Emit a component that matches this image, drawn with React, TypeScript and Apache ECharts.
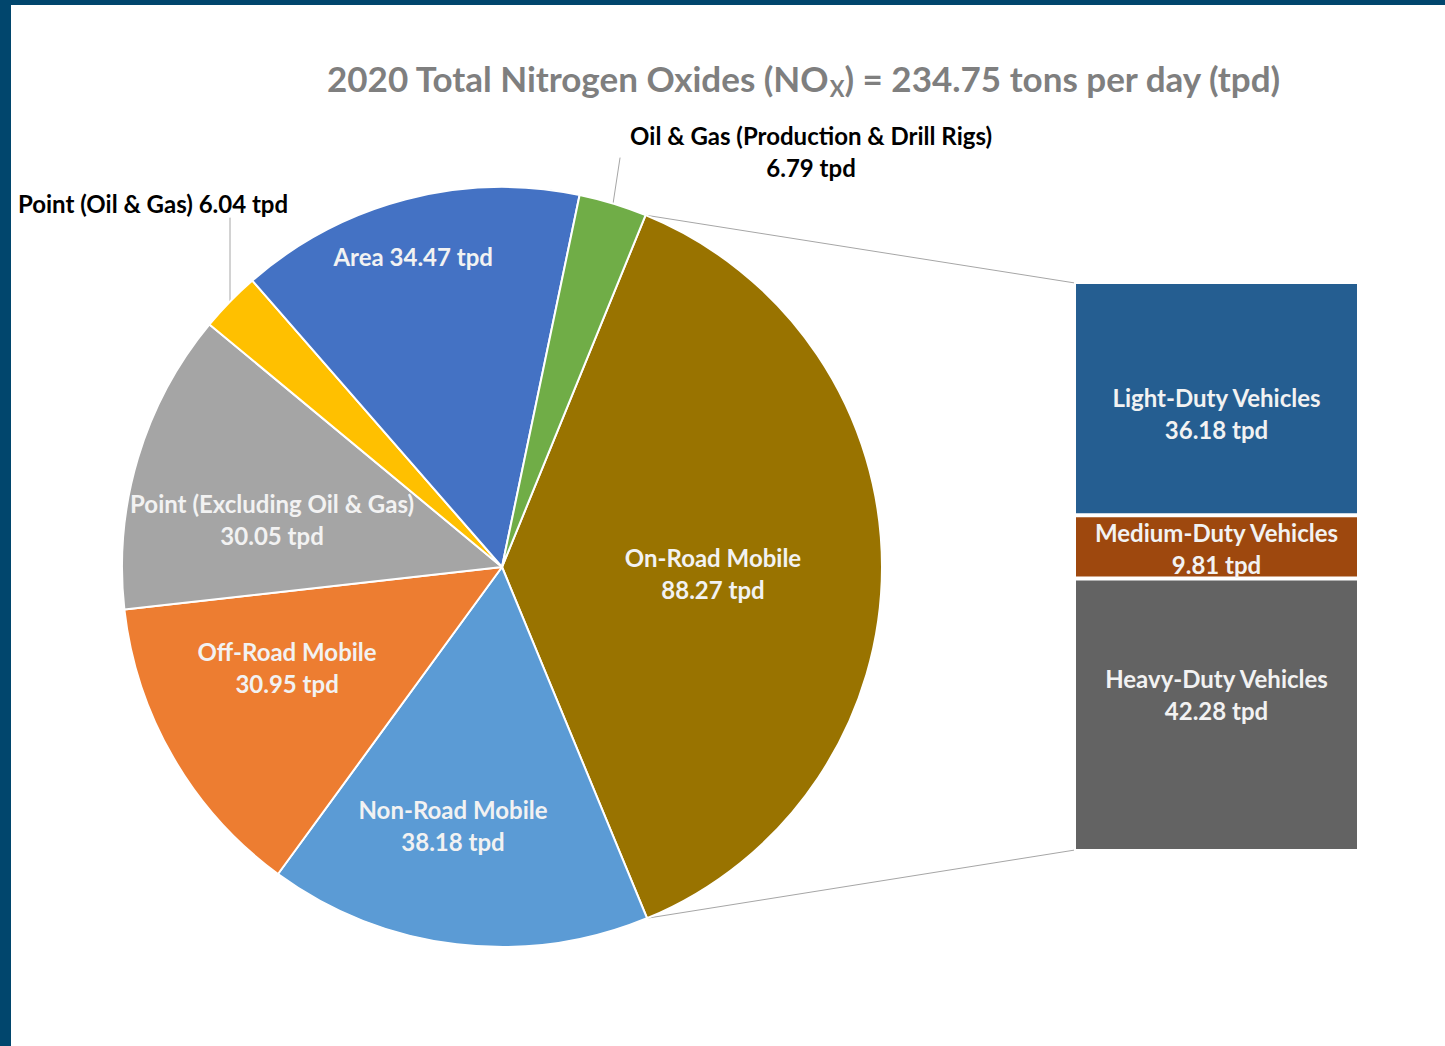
import React, { useEffect, useRef } from "react";
import * as echarts from "echarts";

const categories = [
  "On-Road Mobile",
  "Non-Road Mobile",
  "Off-Road Mobile",
  "Point (Excluding Oil & Gas)",
  "Point (Oil & Gas)",
  "Area",
  "Oil & Gas (Production & Drill Rigs)",
];
const values = [88.27, 38.18, 30.95, 30.05, 6.04, 34.47, 6.79];
const colors = ["#997300", "#5B9BD5", "#ED7D31", "#A5A5A5", "#FFC000", "#4472C4", "#70AD47"];

const onRoadCategories = ["Light-Duty Vehicles", "Medium-Duty Vehicles", "Heavy-Duty Vehicles"];
const onRoadValues = [36.18, 9.81, 42.28];
const onRoadColors = ["#255E91", "#9E480E", "#636363"];

const titleMain = "2020 Total Nitrogen Oxides (NO";
const titleSub = "X";
const titleEnd = ") = 234.75 tons per day (tpd)";

// label tweaks (styling only)
const insideOffsets: Record<string, number[]> = {
  "On-Road Mobile": [18, 7],
  "Non-Road Mobile": [-26, 67],
  "Off-Road Mobile": [-48, 4],
  "Point (Excluding Oil & Gas)": [-45, 8],
  Area: [-40, -124],
};
const barLabelOffsets = [[0, 15], [0, 2], [0, -20]];
const singleLine = ["Area", "Point (Oil & Gas)"];
const outside = ["Point (Oil & Gas)", "Oil & Gas (Production & Drill Rigs)"];

const FONT = "Lato";
const CX = 502;
const CY = 567;
const R = 380;
const START = 22.2; // degrees clockwise from 12 o'clock
const BAR = { left: 1075, top: 283, width: 283, height: 567 };

export default function App() {
  const ref = useRef<HTMLDivElement>(null);
  useEffect(() => {
    document.body.style.margin = "0";
    if (!ref.current) return;
    const chart = echarts.init(ref.current, undefined, { renderer: "svg" });
    const total = values.reduce((a, b) => a + b, 0);
    const onRoadTotal = onRoadValues.reduce((a, b) => a + b, 0);
    const a1 = (START * Math.PI) / 180;
    const a2 = ((START + (360 * values[0]) / total) * Math.PI) / 180;
    const p1 = [CX + R * Math.sin(a1), CY - R * Math.cos(a1)];
    const p2 = [CX + R * Math.sin(a2), CY - R * Math.cos(a2)];

    const pieData = categories.map((name, i) => {
      const isOut = outside.includes(name);
      return {
        name,
        value: values[i],
        itemStyle: { color: colors[i] },
        label: isOut
          ? { position: "outside", color: "#000000", align: "center" }
          : { position: "inside", offset: insideOffsets[name] || [0, 0], color: "#F2F2F2" },
        labelLine: { show: isOut, length: 20, length2: 0, lineStyle: { color: "#A6A6A6", width: 1 } },
      };
    });

    chart.setOption({
      animation: false,
      backgroundColor: "#FFFFFF",
      title: {
        left: 322,
        top: 52,
        text: `{t|${titleMain}}{s|${titleSub}}{t|${titleEnd}}`,
        textStyle: {
          rich: {
            t: { fontFamily: FONT, fontSize: 35, color: "#7F7F7F", lineHeight: 42 },
            s: { fontFamily: FONT, fontSize: 22, color: "#7F7F7F", lineHeight: 42, verticalAlign: "bottom" },
          },
        },
      },
      grid: { left: BAR.left - 1, top: BAR.top - 1, width: BAR.width + 2, height: BAR.height + 2 },
      xAxis: { type: "category", data: ["On-Road Mobile"], show: false },
      yAxis: { type: "value", min: 0, max: onRoadTotal, inverse: true, show: false },
      series: [
        {
          type: "pie",
          silent: true,
          center: [CX, CY],
          radius: [0, R],
          startAngle: 90 - START,
          clockwise: true,
          avoidLabelOverlap: false,
          itemStyle: { borderColor: "#FFFFFF", borderWidth: 2 },
          label: {
            fontFamily: FONT,
            fontWeight: "bold",
            fontSize: 24,
            lineHeight: 32,
            formatter: (p: any) =>
              singleLine.includes(p.name) ? `${p.name} ${p.value} tpd` : `${p.name}\n${p.value} tpd`,
          },
          labelLayout: (p: any) => {
            const pts = p.labelLinePoints;
            if (!pts) return {};
            const [x1, y1] = pts[0];
            if (p.dataIndex === 4) {
              return {
                x: x1 - 77,
                y: y1 - 98,
                align: "center",
                verticalAlign: "middle",
                labelLinePoints: [[x1, y1], [x1, y1 - 84]],
              };
            }
            if (p.dataIndex === 6) {
              return {
                x: x1 + 198,
                y: y1 - 52,
                align: "center",
                verticalAlign: "middle",
                labelLinePoints: [[x1, y1], [x1 + 7, y1 - 46]],
              };
            }
            return {};
          },
          data: pieData,
        },
        ...onRoadCategories.map((name, i) => ({
          type: "bar",
          name,
          stack: "onroad",
          silent: true,
          barWidth: "100%",
          data: [onRoadValues[i]],
          itemStyle: { color: onRoadColors[i], borderColor: "#FFFFFF", borderWidth: 2 },
          label: {
            show: true,
            position: "inside",
            offset: barLabelOffsets[i],
            fontFamily: FONT,
            fontWeight: "bold",
            fontSize: 24,
            lineHeight: 32,
            color: "#F2F2F2",
            formatter: (p: any) => `${p.seriesName}\n${p.value} tpd`,
          },
        })),
      ],
      graphic: [
        { type: "rect", shape: { x: 0, y: 0, width: 11, height: 1046 }, style: { fill: "#01466D" }, silent: true },
        { type: "rect", shape: { x: 0, y: 0, width: 1445, height: 5 }, style: { fill: "#01466D" }, silent: true },
        {
          type: "line",
          shape: { x1: p1[0], y1: p1[1], x2: BAR.left, y2: BAR.top },
          style: { stroke: "#A6A6A6", lineWidth: 1 },
          silent: true,
        },
        {
          type: "line",
          shape: { x1: p2[0], y1: p2[1], x2: BAR.left, y2: BAR.top + BAR.height },
          style: { stroke: "#A6A6A6", lineWidth: 1 },
          silent: true,
        },
      ],
    });
    return () => chart.dispose();
  }, []);
  return <div ref={ref} style={{ width: 1445, height: 1046, background: "#fff" }} />;
}
